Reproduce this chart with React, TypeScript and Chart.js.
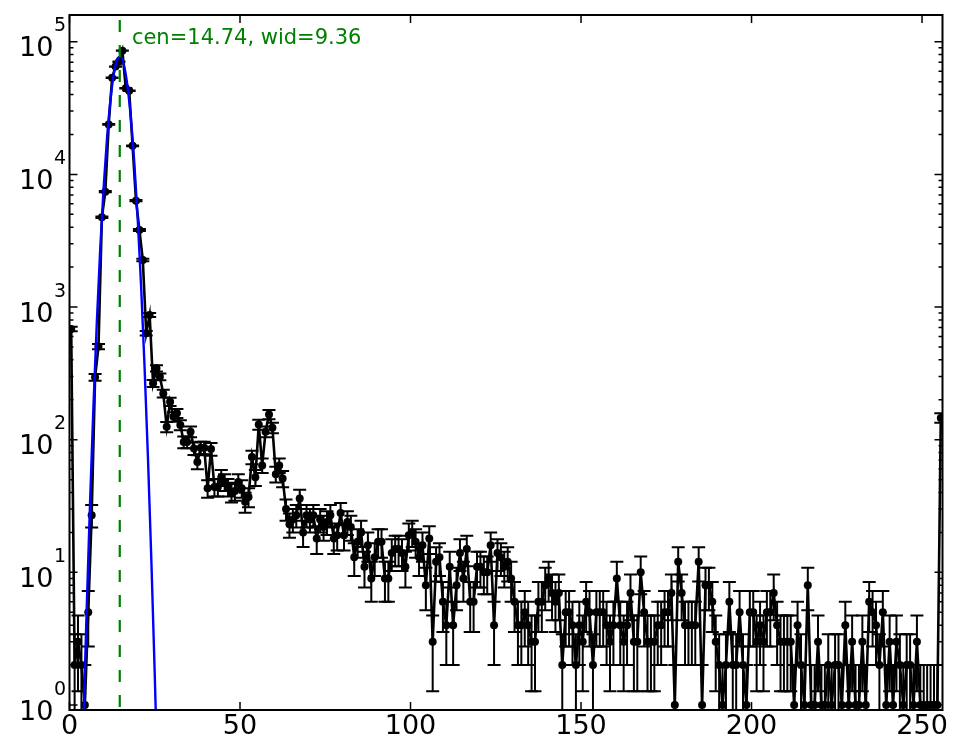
import React, { useEffect, useRef } from "react";
import { Chart, registerables } from "chart.js";

Chart.register(...registerables);

// Histogram counts per bin (bin i spans [i, i+1))
const counts: number[] = [
  684, 2, 3, 2, 1, 5, 27, 295, 503, 4750,
  7410, 23800, 53500, 64900, 70700, 85600, 44600, 42700, 16400, 6340,
  3810, 2260, 635, 871, 266, 345, 298, 223, 125, 193,
  149, 158, 129, 96, 96, 115, 86, 68, 87, 87,
  43, 85, 44, 44, 52, 48, 44, 40, 41, 48,
  43, 34, 37, 74, 52, 130, 64, 115, 155, 123,
  55, 64, 51, 30, 23, 25, 27, 36, 20, 27,
  25, 27, 18, 25, 22, 24, 27, 18, 19, 28,
  19, 24, 22, 13, 17, 20, 11, 16, 9, 13,
  17, 17, 9, 9, 14, 15, 15, 14, 11, 19,
  20, 17, 13, 16, 8, 18, 3, 12, 13, 6,
  4, 11, 4, 8, 14, 9, 15, 6, 6, 11,
  11, 10, 10, 16, 4, 14, 13, 11, 12, 9,
  6, 4, 4, 5, 4, 3, 3, 6, 6, 8,
  9, 7, 6, 7, 2, 5, 5, 4, 2, 4,
  3, 6, 5, 2, 5, 5, 5, 4, 3, 4,
  9, 4, 3, 4, 7, 3, 3, 10, 5, 3,
  3, 3, 4, 4, 5, 5, 7, 1, 12, 7,
  4, 4, 4, 4, 12, 1, 8, 8, 6, 3,
  2, 1, 2, 6, 2, 2, 5, 2, 1, 5,
  5, 3, 4, 3, 5, 5, 7, 4, 3, 3,
  3, 3, 1, 4, 2, 1, 8, 1, 1, 3,
  1, 1, 2, 1, 2, 2, 1, 4, 1, 3,
  1, 1, 3, 1, 6, 5, 4, 2, 5, 1,
  3, 1, 3, 2, 1, 2, 2, 1, 3, 1,
  1, 1, 1, 1, 1, 146,
];

// Gaussian fit curve
const fitX: number[] = [4, 5, 6, 7, 8, 9, 10, 11, 12, 13, 14, 15, 16, 17, 18, 19, 20, 21, 22, 23, 24, 25, 26];
const fitY: number[] = [0.6, 4.9, 32, 173, 754, 2710, 7890, 18700, 36200, 57300, 73800, 77500, 66300, 46300, 26300, 12250, 4630, 1430, 360, 74, 12.4, 1.7, 0.19];

const fitCen = 14.74;
const fitLabel = "cen=14.74, wid=9.36";
const xTicks: number[] = [0, 50, 100, 150, 200, 250];
const yDecades: number[] = [0, 1, 2, 3, 4, 5];

const X_MIN = 0;
const X_MAX = 256;
const Y_MIN = 0.917;
const Y_MAX = 159000;

const binCenters = counts.map((_, i) => i + 0.5);

const FONT = "'DejaVu Sans', 'Liberation Sans', sans-serif";

const mplPlugin = {
  id: "mplLook",
  beforeDatasetsDraw(chart: any) {
    const { ctx, chartArea: a, scales } = chart;
    const x = scales.x;
    const y = scales.y;
    ctx.save();
    ctx.beginPath();
    ctx.rect(a.left, a.top, a.right - a.left, a.bottom - a.top);
    ctx.clip();
    ctx.strokeStyle = "#000";
    ctx.lineWidth = 2;
    const cap = 6.5;
    counts.forEach((v, i) => {
      const px = x.getPixelForValue(binCenters[i]);
      const e = Math.sqrt(v);
      const hi = y.getPixelForValue(v + e);
      const hasLo = v - e > 0;
      const lo = hasLo ? y.getPixelForValue(v - e) : a.bottom + 10;
      ctx.beginPath();
      ctx.moveTo(px, lo);
      ctx.lineTo(px, hi);
      ctx.moveTo(px - cap, hi);
      ctx.lineTo(px + cap, hi);
      if (hasLo) {
        ctx.moveTo(px - cap, lo);
        ctx.lineTo(px + cap, lo);
      }
      ctx.stroke();
    });
    ctx.restore();
  },
  afterDatasetsDraw(chart: any) {
    const { ctx, chartArea: a, scales } = chart;
    const x = scales.x;
    const y = scales.y;
    ctx.save();
    const gx = x.getPixelForValue(fitCen);
    ctx.strokeStyle = "#008000";
    ctx.lineWidth = 2.2;
    ctx.setLineDash([12, 13]);
    ctx.beginPath();
    ctx.moveTo(gx, a.top + 5);
    ctx.lineTo(gx, a.bottom);
    ctx.stroke();
    ctx.setLineDash([]);
    ctx.fillStyle = "#008000";
    ctx.font = `21px ${FONT}`;
    ctx.textAlign = "left";
    ctx.textBaseline = "alphabetic";
    ctx.fillText(fitLabel, x.getPixelForValue(18.3), y.getPixelForValue(96000));
    ctx.restore();
  },
  afterDraw(chart: any) {
    const { ctx, chartArea: a, scales } = chart;
    const x = scales.x;
    const y = scales.y;
    ctx.save();
    ctx.strokeStyle = "#000";
    ctx.fillStyle = "#000";
    // ticks
    ctx.lineWidth = 1.5;
    ctx.beginPath();
    xTicks.forEach((t) => {
      const px = x.getPixelForValue(t);
      ctx.moveTo(px, a.bottom);
      ctx.lineTo(px, a.bottom - 8);
      ctx.moveTo(px, a.top);
      ctx.lineTo(px, a.top + 8);
    });
    for (let n = -1; n <= 5; n++) {
      for (let k = 1; k <= 9; k++) {
        const v = k * Math.pow(10, n);
        if (v < Y_MIN || v > Y_MAX) continue;
        const py = y.getPixelForValue(v);
        const len = k === 1 ? 8 : 4;
        ctx.moveTo(a.left, py);
        ctx.lineTo(a.left + len, py);
        ctx.moveTo(a.right, py);
        ctx.lineTo(a.right - len, py);
      }
    }
    ctx.stroke();
    // spines
    ctx.lineWidth = 2;
    ctx.strokeRect(a.left, a.top, a.right - a.left, a.bottom - a.top);
    // x labels
    ctx.font = `27px ${FONT}`;
    ctx.textAlign = "center";
    ctx.textBaseline = "alphabetic";
    xTicks.forEach((t) => {
      ctx.fillText(String(t), x.getPixelForValue(t), a.bottom + 24);
    });
    // y labels: 10^n
    yDecades.forEach((n) => {
      const py = y.getPixelForValue(Math.pow(10, n));
      const right = a.left - 3.5;
      ctx.textAlign = "right";
      ctx.font = `19px ${FONT}`;
      const sup = String(n);
      const supW = ctx.measureText(sup).width;
      ctx.fillText(sup, right, py - 10.5);
      ctx.font = `27px ${FONT}`;
      ctx.fillText("10", right - supW - 0.5, py + 14.5);
    });
    ctx.restore();
  },
};

export default function App() {
  const canvasRef = useRef<HTMLCanvasElement | null>(null);

  useEffect(() => {
    const canvas = canvasRef.current;
    if (!canvas) return;
    const chart = new Chart(canvas, {
      type: "line",
      data: {
        datasets: [
          {
            label: "fit",
            data: fitX.map((v, i) => ({ x: v, y: fitY[i] })),
            borderColor: "#0000ff",
            borderWidth: 2.4,
            pointRadius: 0,
            cubicInterpolationMode: "monotone",
            fill: false,
            clip: 0,
            order: 0,
          } as any,
          {
            label: "counts",
            data: counts.map((v, i) => ({ x: binCenters[i], y: v })),
            borderColor: "#000000",
            borderWidth: 2.6,
            pointRadius: 4,
            pointBackgroundColor: "#000000",
            pointBorderWidth: 0,
            pointHoverRadius: 4,
            tension: 0,
            fill: false,
            clip: 0,
            order: 1,
          } as any,
        ],
      },
      options: {
        animation: false,
        responsive: false,
        events: [],
        layout: { padding: { left: 69.5, right: 22.5, top: 15, bottom: 46 } },
        plugins: { legend: { display: false }, tooltip: { enabled: false } },
        scales: {
          x: { type: "linear", min: X_MIN, max: X_MAX, display: false },
          y: { type: "logarithmic", min: Y_MIN, max: Y_MAX, display: false },
        },
      },
      plugins: [mplPlugin],
    });
    return () => chart.destroy();
  }, []);

  return (
    <div style={{ position: "fixed", left: 0, top: 0, width: 965, height: 756, background: "#fff" }}>
      <canvas ref={canvasRef} width={965} height={756} style={{ width: 965, height: 756 }} />
    </div>
  );
}
